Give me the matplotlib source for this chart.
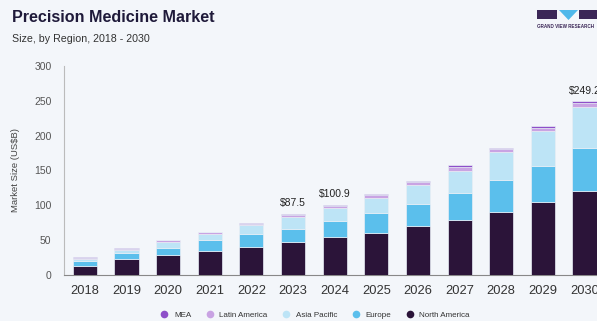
import matplotlib
matplotlib.use("Agg")
import matplotlib.pyplot as plt
from matplotlib.lines import Line2D
from matplotlib.patches import Rectangle, Polygon
import numpy as np

plt.rcParams['font.family'] = ['Liberation Sans', 'DejaVu Sans']

years = ['2018', '2019', '2020', '2021', '2022', '2023', '2024', '2025', '2026', '2027', '2028', '2029', '2030']
north_america = [13.5, 22.5, 28.0, 34.0, 40.6, 47.0, 54.0, 60.8, 69.8, 79.4, 90.9, 104.3, 121.0]
europe = [6.0, 8.5, 11.4, 15.8, 18.2, 19.4, 23.0, 27.7, 32.1, 38.2, 44.9, 52.1, 61.6]
asia_pacific = [3.9, 5.3, 8.5, 9.2, 12.4, 17.1, 18.9, 22.5, 27.1, 32.4, 40.2, 50.2, 58.0]
latin_america = [1.4, 1.7, 2.0, 2.1, 2.4, 2.8, 3.5, 3.6, 4.1, 5.1, 4.3, 5.0, 6.0]
mea = [0.6, 0.7, 0.8, 0.9, 1.0, 1.2, 1.5, 1.6, 1.8, 2.2, 1.9, 2.2, 2.6]
labels = {'2023': '$87.5', '2024': '$100.9', '2030': '$249.2'}

series = [('North America', north_america, '#2b1439'),
          ('Europe', europe, '#5bbfec'),
          ('Asia Pacific', asia_pacific, '#bde4f6'),
          ('Latin America', latin_america, '#c9a3e3'),
          ('MEA', mea, '#8e4fc9')]

bg = '#f3f6fa'
fig = plt.figure(figsize=(5.97, 3.21), dpi=100, facecolor=bg)
ax = fig.add_axes([64/597, 46/321, 1 - 64/597, (275-66)/321])
ax.set_facecolor(bg)

x = np.arange(len(years))
bottom = np.zeros(len(years))
for name, vals, col in series:
    ax.bar(x, vals, width=0.58, bottom=bottom, color=col, edgecolor='#e8eef5', linewidth=0.5, zorder=3)
    bottom += np.array(vals)

for i, y in enumerate(years):
    if y in labels:
        ax.annotate(labels[y], (x[i], bottom[i]), xytext=(0, 4), textcoords='offset points',
                    ha='center', va='bottom', fontsize=7.5, color='#222222', annotation_clip=False)

ax.set_xlim(-0.5, 12.3)
ax.set_ylim(0, 300)
ax.set_yticks([0, 50, 100, 150, 200, 250, 300])
ax.set_xticks(x)
ax.set_xticklabels(years)
ax.tick_params(axis='x', length=0, labelsize=9.3, colors='#333333', pad=7)
ax.tick_params(axis='y', length=0, labelsize=7.5, colors='#555555', pad=9)
for s in ['top', 'right']:
    ax.spines[s].set_visible(False)
ax.spines['left'].set_color('#bbbbbb')
ax.spines['bottom'].set_color('#888888')
ax.spines['left'].set_linewidth(0.8)
ax.spines['bottom'].set_linewidth(0.8)
ax.set_ylabel('Market Size (US$B)', fontsize=6.8, color='#444444', labelpad=10)

fig.text(12/597, 1 - 18/321, 'Precision Medicine Market', fontsize=11.6, fontweight='bold',
         color='#1f1a3a', va='center', ha='left')
fig.text(12/597, 1 - 39/321, 'Size, by Region, 2018 - 2030', fontsize=7.7, color='#333333',
         va='center', ha='left')

# logo
W, H = 597, 321
def fx(px): return px / W
def fy(py): return 1 - py / H
fig.patches.append(Rectangle((fx(537), fy(19)), fx(557) - fx(537), fy(10) - fy(19),
                             transform=fig.transFigure, facecolor='#3b2757', edgecolor='none'))
fig.patches.append(Polygon([(fx(559), fy(10)), (fx(578), fy(10)), (fx(568.5), fy(20))],
                           closed=True, transform=fig.transFigure, facecolor='#4fb8ea', edgecolor='none'))
fig.patches.append(Rectangle((fx(579), fy(19)), fx(597) - fx(579), fy(10) - fy(19),
                             transform=fig.transFigure, facecolor='#3b2757', edgecolor='none'))
fig.text(fx(537), fy(27), 'GRAND VIEW RESEARCH', fontsize=3.3, fontweight='bold', color='#3b2757',
         va='center', ha='left')

handles = [Line2D([], [], marker='o', linestyle='none', markersize=5.5, markerfacecolor=c,
                  markeredgecolor='none', label=n) for n, _, c in series[::-1]]
fig.legend(handles=handles, loc='center', bbox_to_anchor=(313/597, 1 - 315/321), ncol=5,
           frameon=False, fontsize=5.8, handletextpad=0.2, columnspacing=1.3,
           labelcolor='#333333')

fig.savefig('out.png', dpi=100, facecolor=bg)
